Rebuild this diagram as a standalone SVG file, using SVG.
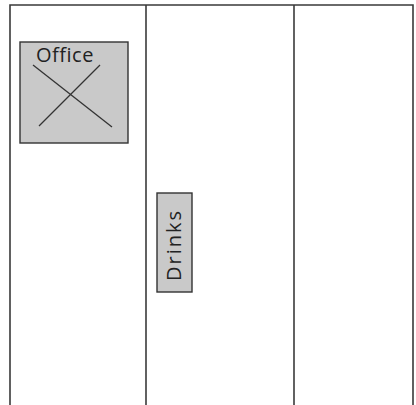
<svg xmlns="http://www.w3.org/2000/svg" width="416" height="405" viewBox="0 0 416 405">
<style>
.wall{stroke:#3a3a3a;stroke-width:1.6;fill:none}
.box{fill:#c9c9c9;stroke:#333;stroke-width:1.4}
.lbl{font-family:"Open Sans","DejaVu Sans",sans-serif;font-size:20px;fill:#222}
.x{stroke:#333;stroke-width:1.3}
</style>
<rect width="416" height="405" fill="#fff"/>
<g id="walls">
<path class="wall" d="M10,405 V5 H413 V405"/>
<line class="wall" x1="146" y1="5" x2="146" y2="405"/>
<line class="wall" x1="294" y1="5" x2="294" y2="405"/>
</g>
<g id="office">
<rect class="box" x="20" y="42" width="108" height="101"/>
<line class="x" x1="33" y1="65" x2="112" y2="127"/>
<line class="x" x1="100" y1="65" x2="39" y2="126"/>
<text class="lbl" x="36" y="62" style="letter-spacing:0.5px">Office</text>
</g>
<g id="drinks">
<rect class="box" x="157" y="193" width="35" height="99"/>
<text class="lbl" transform="translate(181,245) rotate(-90)" text-anchor="middle" style="letter-spacing:2px">Drinks</text>
</g>
</svg>
